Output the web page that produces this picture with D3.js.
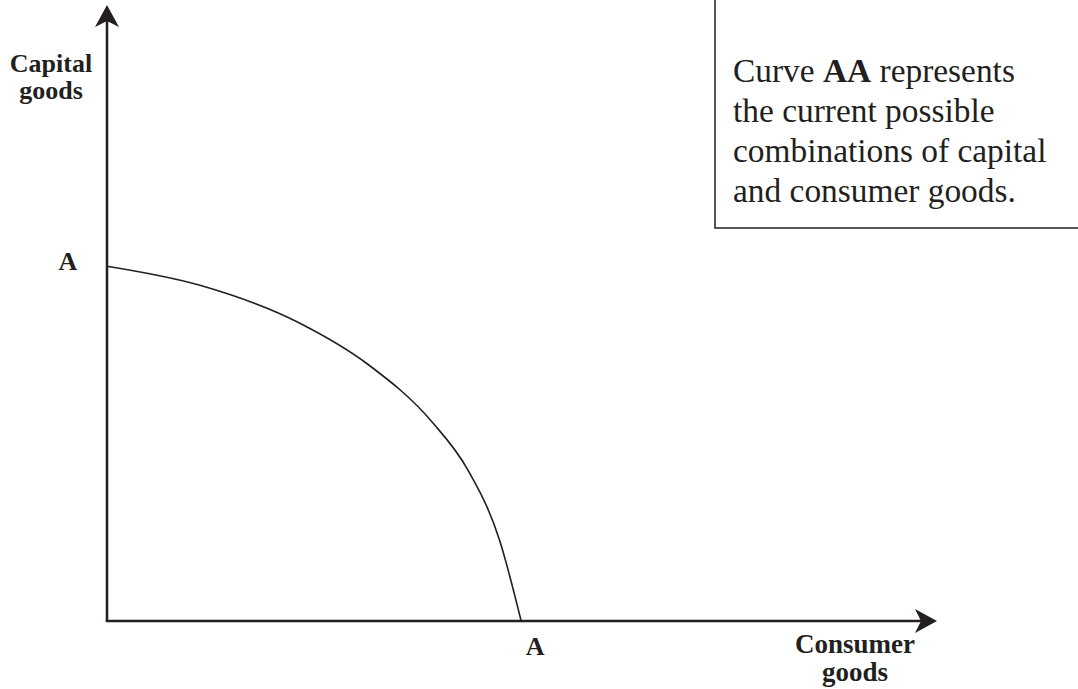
<!DOCTYPE html>
<html>
<head>
<meta charset="utf-8">
<script src="https://cdn.jsdelivr.net/npm/d3@7"></script>
<style>
  body { margin: 0; background: #fff; }
  text { font-family: "Liberation Serif", "Times New Roman", serif; fill: #231f20; }
</style>
</head>
<body>
<div id="chart"></div>
<script>
// curve AA (consumer goods, capital goods) in axis units 0..100
const curveX = [0, 11.2, 23.3, 31.3, 39.3, 43.4, 47.3, 49.9];
const curveY = [57.6, 54.5, 48.3, 41.8, 32.1, 24.7, 13.1, 0];

const yAxisLabel = ["Capital", "goods"];
const xAxisLabel = ["Consumer", "goods"];
const curveName = "A";
const noteLines = [
    [["Curve ", false], ["AA", true], [" represents", false]],
    [["the current possible", false]],
    [["combinations of capital", false]],
    [["and consumer goods.", false]]
];

const W = 1078, H = 689;
const ink = "#231f20";

const svg = d3.select("#chart").append("svg")
    .attr("width", W)
    .attr("height", H);

// Scales: origin bottom-left, 100 = arrow tip
const x = d3.scaleLinear().domain([0, 100]).range([107, 937]);
const y = d3.scaleLinear().domain([0, 100]).range([621, 5]);

// Arrowhead marker
const defs = svg.append("defs");
defs.append("marker")
    .attr("id", "arrow")
    .attr("markerUnits", "userSpaceOnUse")
    .attr("viewBox", "-23 -13 24 26")
    .attr("markerWidth", 24)
    .attr("markerHeight", 26)
    .attr("refX", -16)
    .attr("refY", 0)
    .attr("orient", "auto")
    .append("path")
    .attr("d", "M0,0 L-22,-12 L-16,0 L-22,12 Z")
    .attr("fill", ink);

// Axes (no ticks, just lines with arrows)
svg.append("line")
    .attr("x1", x(0)).attr("y1", y(0))
    .attr("x2", x(0)).attr("y2", y(100) + 16)
    .attr("stroke", ink)
    .attr("stroke-width", 2.5)
    .attr("marker-end", "url(#arrow)");

svg.append("line")
    .attr("x1", x(0) - 1.25).attr("y1", y(0))
    .attr("x2", x(100) - 16).attr("y2", y(0))
    .attr("stroke", ink)
    .attr("stroke-width", 2.5)
    .attr("marker-end", "url(#arrow)");

// Curve AA
const pts = curveX.map((d, i) => [d, curveY[i]]);
const line = d3.line()
    .x(d => x(d[0]))
    .y(d => y(d[1]))
    .curve(d3.curveMonotoneX);

svg.append("path")
    .datum(pts)
    .attr("d", line)
    .attr("fill", "none")
    .attr("stroke", ink)
    .attr("stroke-width", 1.6);

// End labels "A"
svg.append("text")
    .attr("x", 68)
    .attr("y", y(curveY[0]) + 4)
    .attr("text-anchor", "middle")
    .attr("font-weight", "bold")
    .attr("font-size", "26px")
    .text(curveName);

svg.append("text")
    .attr("x", x(curveX[curveX.length - 1]) + 14)
    .attr("y", 655)
    .attr("text-anchor", "middle")
    .attr("font-weight", "bold")
    .attr("font-size", "26px")
    .text(curveName);

// Axis titles
svg.append("text")
    .attr("text-anchor", "middle")
    .attr("font-weight", "bold")
    .attr("font-size", "26px")
    .selectAll("tspan")
    .data(yAxisLabel)
    .enter().append("tspan")
    .attr("x", 51)
    .attr("y", (d, i) => 72 + i * 27)
    .text(d => d);

svg.append("text")
    .attr("text-anchor", "middle")
    .attr("font-weight", "bold")
    .attr("font-size", "27px")
    .selectAll("tspan")
    .data(xAxisLabel)
    .enter().append("tspan")
    .attr("x", 855)
    .attr("y", (d, i) => 653 + i * 28)
    .text(d => d);

// Note box (top and right edges run off the picture)
svg.append("rect")
    .attr("x", 715)
    .attr("y", -5)
    .attr("width", 400)
    .attr("height", 233)
    .attr("fill", "none")
    .attr("stroke", ink)
    .attr("stroke-width", 1.5);

const note = svg.append("text")
    .attr("font-size", "33.4px");

noteLines.forEach((parts, i) => {
    parts.forEach((p, j) => {
        const t = note.append("tspan")
            .attr("font-weight", p[1] ? "bold" : "normal")
            .style("white-space", "pre")
            .text(p[0]);
        if (j === 0) t.attr("x", 733).attr("y", 82 + i * 40);
    });
});
</script>
</body>
</html>
